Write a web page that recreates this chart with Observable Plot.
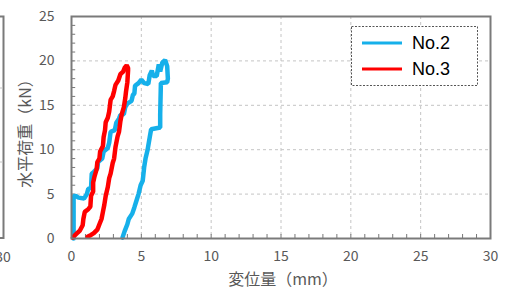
<!DOCTYPE html>
<html>
<head>
<meta charset="utf-8">
<script src="https://cdn.jsdelivr.net/npm/d3@7"></script>
<script src="https://cdn.jsdelivr.net/npm/@observablehq/plot@0.6"></script>
<style>
  html, body { margin: 0; padding: 0; background: #fff; }
  #wrap { position: relative; width: 510px; height: 291px; overflow: hidden; }
  #wrap svg { position: absolute; left: 0; top: 0; }
</style>
</head>
<body>
<div id="wrap"></div>
<script>
// Tick labels
const xTicks = [0, 5, 10, 15, 20, 25, 30];
const yTicks = [0, 5, 10, 15, 20, 25];
const xLabel = "変位量（mm）";
const yLabel = "水平荷重（kN）";
const seriesNames = ["No.2", "No.3"];
const seriesColors = ["#16b0ea", "#ff0000"];

// No.2 (blue): displacement (mm), load (kN)
const no2X = [0.15,0.15,0.3,0.5,0.9,1.1,1.2,1.4,1.45,1.6,1.85,1.9,2.2,2.3,2.6,2.7,2.8,3.1,3.2,3.4,3.5,3.75,3.85,4.0,4.3,4.4,4.5,4.55,4.8,5.0,5.2,5.5,5.6,5.75,5.85,6.1,6.25,6.35,6.5,6.7,6.85,6.9,6.85,6.4,6.35,6.35,5.7,5.6,5.45,5.3,5.2,5.1,4.95,4.8,4.7,4.5,4.35,4.1,4.0,3.8,3.65];
const no2Y = [0,4.8,4.8,4.6,4.5,5.0,5.6,5.7,7.3,7.5,7.9,8.6,9.0,9.8,10.2,10.8,12.0,12.2,13.0,13.5,13.9,14.0,14.8,15.2,15.5,16.2,16.3,17.2,17.5,17.9,17.5,17.4,18.4,18.9,18.3,18.3,19.6,18.8,19.8,20.1,19.4,18.0,17.6,17.5,14.0,12.5,12.3,11.4,10.0,9.0,8.0,6.5,6.0,5.0,4.5,3.5,2.8,2.2,1.6,0.8,0.1];

// No.3 (red)
const no3X = [0.1,0.2,0.4,0.6,0.8,0.85,0.95,1.2,1.35,1.4,1.55,1.55,1.65,1.8,1.85,2.0,2.05,2.25,2.3,2.4,2.45,2.6,2.7,2.8,2.95,3.05,3.15,3.35,3.5,3.7,3.8,3.95,4.05,4.05,4.0,3.9,3.85,3.75,3.6,3.5,3.4,3.3,3.15,3.05,2.95,2.8,2.7,2.6,2.45,2.35,2.25,2.15,2.0,1.85,1.6,1.4,1.15];
const no3Y = [0.1,0.3,0.6,0.9,1.5,2.2,3.0,3.3,3.6,4.8,5.3,6.3,7.0,7.8,8.6,9.0,9.8,10.4,11.4,12.2,13.1,13.6,14.3,15.6,16.0,16.6,17.3,17.8,18.5,18.8,19.2,19.5,19.2,18.9,17.6,16.5,15.8,14.8,14.0,13.2,12.0,11.5,10.3,9.0,8.5,7.3,6.8,5.8,4.8,3.8,3.0,2.2,1.6,1.0,0.6,0.4,0.2];

const minorX = d3.range(1, 30).filter(v => v % 5 !== 0);
const minorY = d3.range(1, 25).filter(v => v % 5 !== 0);

const no2 = no2X.map((x, i) => ({x, y: no2Y[i]}));
const no3 = no3X.map((x, i) => ({x, y: no3Y[i]}));

const chart = Plot.plot({
  width: 510,
  height: 291,
  marginLeft: 71,
  marginRight: 20,
  marginTop: 16,
  marginBottom: 53,
  style: {fontFamily: "'Noto Sans CJK JP', 'Noto Sans', sans-serif", fontSize: "14px", color: "#595959", background: "transparent"},
  x: {domain: [0, 30], label: null},
  y: {domain: [0, 25], label: null},
  marks: [
    Plot.gridX(xTicks.filter(v => v > 0 && v < 30), {stroke: "#c4c4c4", strokeOpacity: 1, strokeDasharray: "3,3"}),
    Plot.gridY(yTicks.filter(v => v > 0 && v < 25), {stroke: "#c4c4c4", strokeOpacity: 1, strokeDasharray: "3,3"}),
    Plot.ruleX(xTicks.concat(minorX), {y1: 0, y2: 0.45, stroke: "#777", strokeWidth: 1}),
    Plot.ruleY(yTicks.concat(minorY), {x1: 0, x2: 0.3, stroke: "#777", strokeWidth: 1}),
    Plot.axisX({ticks: xTicks, tickSize: 0, tickPadding: 13, label: null, fontSize: 14}),
    Plot.axisY({ticks: yTicks, tickSize: 0, tickPadding: 17, label: null, fontSize: 14}),
    Plot.line(no2, {x: "x", y: "y", stroke: seriesColors[0], strokeWidth: 4.5, strokeLinejoin: "miter"}),
    Plot.line(no3, {x: "x", y: "y", stroke: seriesColors[1], strokeWidth: 4.5, strokeLinejoin: "miter"}),
    Plot.frame({stroke: "#7a7a7a", strokeWidth: 2}),
    Plot.text([xLabel], {frameAnchor: "bottom", dy: 41, dx: 2, fontSize: 16, fill: "#595959", textAnchor: "middle", lineAnchor: "middle"}),
    Plot.text([yLabel], {frameAnchor: "left", dx: -46, dy: 2, rotate: -90, fontSize: 16, fill: "#595959", textAnchor: "middle", lineAnchor: "middle"})
  ]
});
const wrap = document.getElementById("wrap");
wrap.appendChild(chart);

// Edge of neighbouring panel (cut off at the left of the picture)
const ns = "http://www.w3.org/2000/svg";
const edge = document.createElementNS(ns, "svg");
edge.setAttribute("width", "14");
edge.setAttribute("height", "291");
edge.innerHTML = `
  <path d="M0,16.5H3.5V238H0" fill="none" stroke="#7a7a7a" stroke-width="2"/>
  <path d="M0,88H3M0,162H3" stroke="#c4c4c4" stroke-dasharray="3,3"/>
  <text x="3" y="258" text-anchor="middle" dominant-baseline="middle" font-family="'Noto Sans CJK JP', sans-serif" font-size="14" fill="#595959">30</text>`;
wrap.appendChild(edge);

// Legend
const leg = document.createElementNS(ns, "svg");
leg.setAttribute("width", "510");
leg.setAttribute("height", "291");
leg.style.pointerEvents = "none";
let html = `<rect x="351.5" y="26.5" width="126" height="59" fill="#fff" stroke="#555" stroke-width="1" stroke-dasharray="2,1.5"/>`;
seriesNames.forEach((n, i) => {
  const y = 43 + i * 26;
  html += `<line x1="362" x2="402" y1="${y}" y2="${y}" stroke="${seriesColors[i]}" stroke-width="3"/>`;
  html += `<text x="412" y="${y}" dominant-baseline="central" font-family="'Liberation Sans', Arial, sans-serif" font-size="18" fill="#000">${n}</text>`;
});
leg.innerHTML = html;
wrap.appendChild(leg);
</script>
</body>
</html>
